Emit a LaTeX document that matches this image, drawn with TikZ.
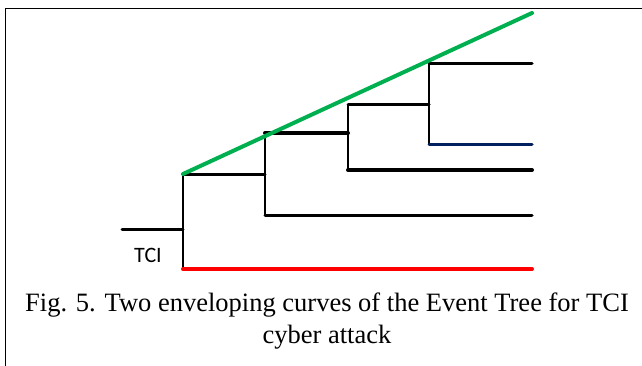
\documentclass[tikz,border=0pt]{standalone}
\usepackage{fontspec}
\setmainfont{Liberation Serif}
\newfontfamily\labelfont{Carlito}
\definecolor{envgreen}{RGB}{0,176,80}
\definecolor{envred}{RGB}{255,0,0}
\definecolor{navyline}{RGB}{0,32,96}
\begin{document}
\begin{tikzpicture}[x=1pt,y=-1pt,
  branch/.style={line width=3pt,black,line cap=round},
  thickbranch/.style={line width=4pt,black,line cap=round},
  envelope/.style={line width=4pt,line cap=round},
  caption/.style={font=\fontsize{26.5}{32}\selectfont,align=center,inner sep=0pt}]
\useasboundingbox (0,0) rectangle (642,365);
\fill[white] (0,0) rectangle (642,365);
\begin{scope}
\clip (0,0) rectangle (642,365);
\draw[line width=1.5pt] (5.5,380) -- (5.5,8.5) -- (660,8.5);
\end{scope}

% tree points
\coordinate (s0) at (122,229);
\coordinate (r0) at (183,229);
\coordinate (rt) at (183,174);
\coordinate (rb) at (183,269);
\coordinate (a0) at (265,174);
\coordinate (at) at (265,133);
\coordinate (ab) at (265,215);
\coordinate (b0) at (348,133);
\coordinate (bt) at (348,104);
\coordinate (bb) at (348,170);
\coordinate (c0) at (429,104);
\coordinate (ct) at (429,63);
\coordinate (cb) at (429,144);
\coordinate (e1) at (532,63);
\coordinate (e2) at (532,144);
\coordinate (e3) at (532,170);
\coordinate (e4) at (532,215);
\coordinate (e5) at (532,269);
\coordinate (gend) at (532,13);

% initiating event and branches
\draw[branch] (s0) -- (r0);
\draw[line width=2.5pt] (rt) -- (rb);
\draw[branch] (rt) -- (a0);
\draw[line width=2.5pt] (at) -- (ab);
\draw[branch] (ab) -- (e4);
\draw[thickbranch] (at) -- (b0);
\draw[line width=2.5pt] (bt) -- (bb);
\draw[thickbranch] (bb) -- (e3);
\draw[branch] (bt) -- (c0);
\draw[line width=2.5pt] (ct) -- (cb);
\draw[branch] (ct) -- (e1);
\draw[branch,navyline] (cb) -- (e2);

% enveloping curves
\draw[envelope,envred] (rb) -- (e5);
\draw[envelope,envgreen] (rt) -- (gend);

\node[font=\labelfont\fontsize{22}{24}\selectfont,inner sep=0pt] (tci) at (148,255) {TCI};
\node[caption] (cap) at (327,321) {Fig. 5. Two enveloping curves of the Event Tree for TCI\\cyber attack};
\end{tikzpicture}
\end{document}
